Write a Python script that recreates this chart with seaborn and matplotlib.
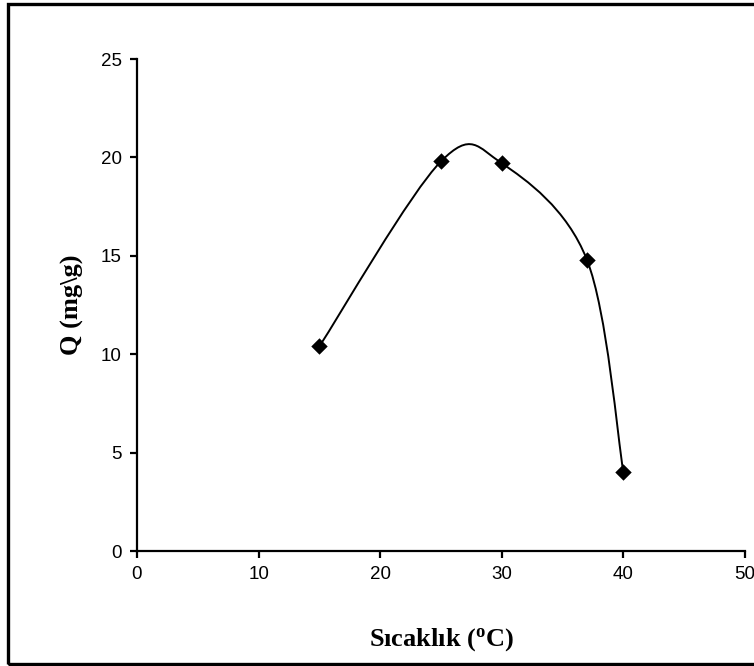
import numpy as np
import pandas as pd
import matplotlib
matplotlib.use('Agg')
import matplotlib.pyplot as plt
from matplotlib.path import Path
from matplotlib.patches import PathPatch, Rectangle
import seaborn as sns

sns.set_theme(style='ticks')
plt.rcParams['font.family'] = ['Liberation Sans', 'DejaVu Sans']
plt.rcParams['mathtext.fontset'] = 'custom'
plt.rcParams['mathtext.rm'] = 'Liberation Serif:bold'
plt.rcParams['text.color'] = 'black'
plt.rcParams['axes.labelcolor'] = 'black'

# veri
sicaklik = [15, 25, 30, 37, 40]
q_degerleri = [10.4, 19.8, 19.7, 14.8, 4.0]
x_ticks = [0, 10, 20, 30, 40, 50]
y_ticks = [0, 5, 10, 15, 20, 25]

df = pd.DataFrame({'Sicaklik': sicaklik, 'Q': q_degerleri})

fig = plt.figure(figsize=(7.54, 6.66), dpi=100)
ax = fig.add_axes([137 / 754, 1 - 551 / 666, 608 / 754, 492 / 666])

# Excel tarzi yumusak cizgi (Catmull-Rom -> Bezier)
pts = df[['Sicaklik', 'Q']].to_numpy(dtype=float)
n = len(pts)
verts = [tuple(pts[0])]
codes = [Path.MOVETO]
for i in range(n - 1):
    p0 = pts[i - 1] if i > 0 else pts[i]
    p1 = pts[i]
    p2 = pts[i + 1]
    p3 = pts[i + 2] if i + 2 < n else pts[i + 1]
    c1 = p1 + (p2 - p0) / 6
    c2 = p2 - (p3 - p1) / 6
    verts += [tuple(c1), tuple(c2), tuple(p2)]
    codes += [Path.CURVE4] * 3
ax.add_patch(PathPatch(Path(verts, codes), facecolor='none', edgecolor='black', lw=1.4))

sns.scatterplot(data=df, x='Sicaklik', y='Q', marker='D', s=70, color='black',
                edgecolor='black', linewidth=0, ax=ax, zorder=3)

ax.set_xlim(0, 50)
ax.set_ylim(0, 25)
ax.set_xticks(x_ticks)
ax.set_yticks(y_ticks)
ax.tick_params(direction='out', length=5, width=1.6, colors='black', labelsize=13.5, pad=6)
for side in ['top', 'right']:
    ax.spines[side].set_visible(False)
for side in ['left', 'bottom']:
    ax.spines[side].set_linewidth(1.6)
    ax.spines[side].set_color('black')

ax.set_xlabel(r'Sıcaklık ($\mathregular{^o}$C)', family='Liberation Serif', weight='bold',
              fontsize=19, labelpad=31, color='black')
ax.set_ylabel(r'Q (mg\g)', family='Liberation Serif', weight='bold', fontsize=19,
              labelpad=12, color='black')

# cerceve
fig.patches.append(Rectangle((8 / 754, 2 / 666), 1.2, 660 / 666, transform=fig.transFigure,
                             fill=False, edgecolor='black', lw=2.4, clip_on=False))

fig.savefig('out.png', dpi=100)
